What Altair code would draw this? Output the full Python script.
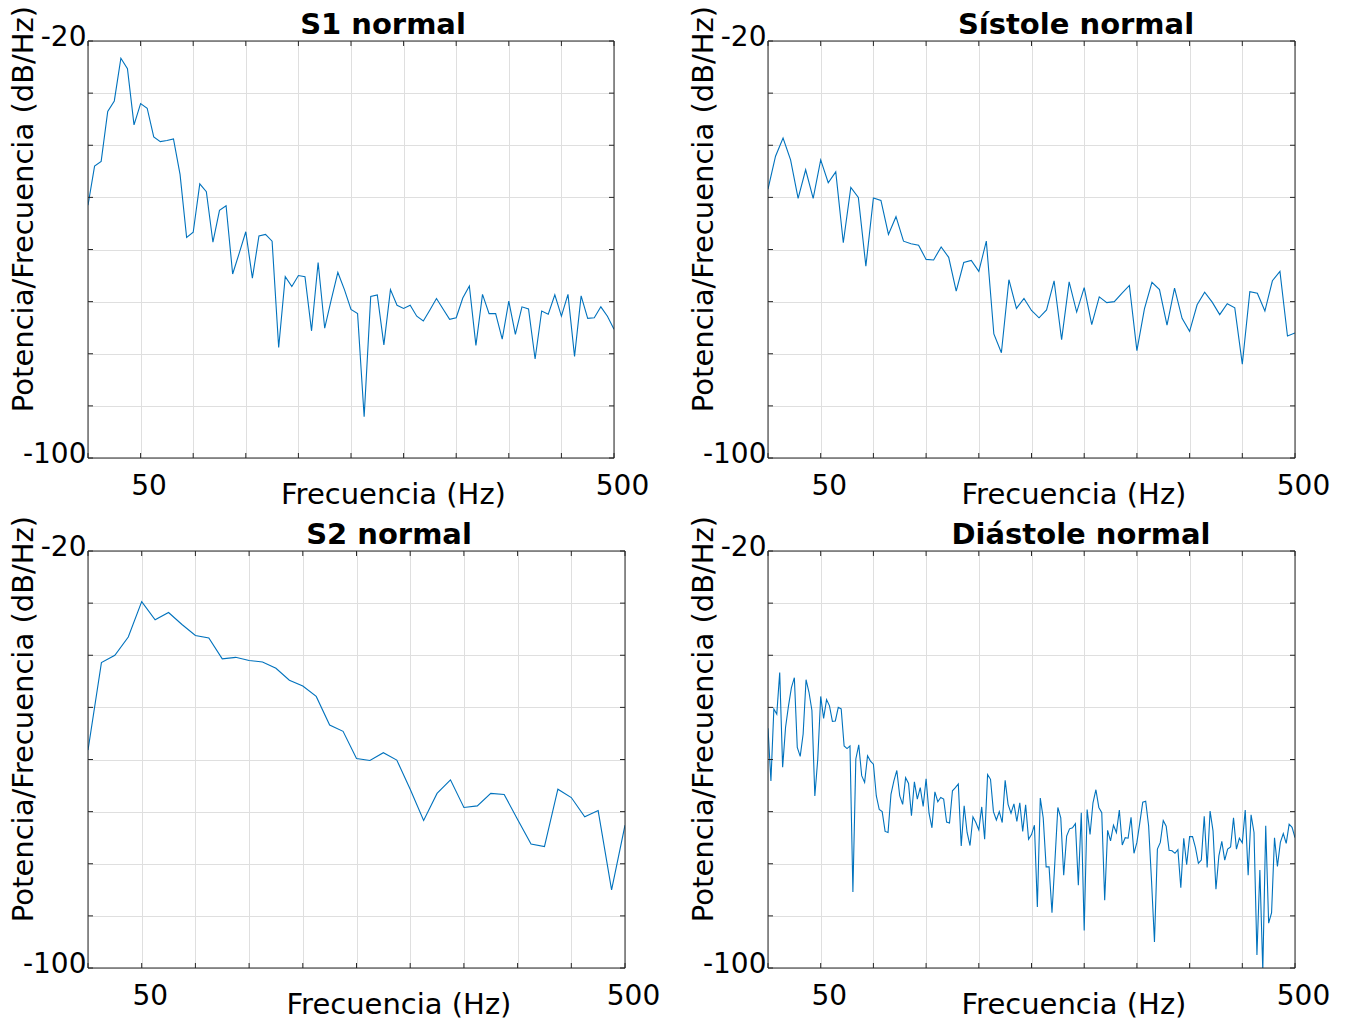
import altair as alt
import pandas as pd

# ---------------- data (dB/Hz) ----------------
s1_normal = [
    -51.5, -44.0, -43.1, -33.5, -31.5, -23.3, -25.3, -36.1, -32.0, -32.9,
    -38.4, -39.3, -39.1, -38.8, -45.6, -57.7, -56.7, -47.4, -48.9, -58.6,
    -52.5, -51.6, -64.7, -60.7, -56.6, -65.5, -57.4, -57.1, -58.4, -78.8,
    -65.2, -67.1, -65.0, -65.2, -75.6, -62.5, -75.1, -69.6, -64.4, -67.7,
    -71.5, -72.3, -92.1, -69.0, -68.7, -78.3, -67.7, -70.7, -71.3, -70.7,
    -72.8, -73.7, -71.6, -69.4, -71.4, -73.4, -73.1, -69.3, -67.0, -78.4,
    -68.6, -72.3, -72.3, -77.2, -69.9, -76.3, -71.0, -71.4, -81.0, -71.8,
    -72.4, -68.7, -72.8, -68.6, -80.5, -68.9, -73.2, -73.1, -71.0, -72.8,
    -75.3,
]

sistole_normal = [
    -48.4, -42.1, -38.6, -42.8, -50.2, -44.7, -50.2, -42.8, -47.2, -45.1,
    -58.7, -48.1, -50.0, -63.2, -50.1, -50.6, -57.1, -53.7, -58.4, -58.9,
    -59.2, -61.9, -62.0, -59.5, -61.5, -68.0, -62.5, -62.1, -64.2, -58.4,
    -76.2, -79.8, -65.8, -71.3, -69.4, -71.7, -73.1, -71.6, -66.0, -77.3,
    -66.2, -72.0, -67.3, -74.4, -69.1, -70.2, -70.0, -68.4, -66.9, -79.4,
    -71.4, -66.3, -67.7, -74.5, -67.4, -73.2, -75.7, -70.6, -68.2, -70.1,
    -72.5, -70.4, -71.2, -82.0, -68.1, -68.4, -71.8, -66.0, -64.2, -76.6,
    -76.0,
]

s2_normal = [
    -58.2, -41.4, -40.0, -36.5, -29.7, -33.2, -31.8, -34.1, -36.2, -36.7,
    -40.7, -40.4, -41.0, -41.3, -42.5, -44.8, -45.9, -47.9, -53.4, -54.6,
    -59.8, -60.2, -58.7, -60.1, -65.7, -71.7, -66.5, -63.9, -69.2, -68.9,
    -66.5, -66.7, -71.5, -76.2, -76.7, -65.7, -67.3, -71.0, -69.8, -85.0,
    -72.6,
]

diastole_normal = [
    -54.0, -64.1, -50.3, -51.3, -43.3, -61.5, -53.8, -49.7, -46.2, -44.3,
    -57.7, -59.4, -55.1, -44.7, -47.1, -50.6, -67.0, -59.9, -47.9, -52.1,
    -48.5, -49.7, -52.7, -52.6, -50.0, -50.3, -57.4, -57.9, -57.4, -85.4,
    -59.9, -57.2, -63.1, -64.4, -59.3, -60.3, -60.9, -67.0, -69.6, -70.0,
    -73.8, -74.0, -66.7, -64.1, -62.1, -67.0, -68.6, -63.5, -64.6, -70.8,
    -64.3, -67.6, -65.4, -69.0, -63.7, -70.3, -73.1, -66.2, -68.1, -67.3,
    -67.6, -72.0, -72.2, -66.0, -65.4, -64.7, -76.6, -68.9, -74.0, -76.5,
    -71.0, -72.1, -73.5, -69.1, -75.3, -62.9, -63.8, -70.0, -71.6, -70.0,
    -72.1, -64.0, -68.6, -70.3, -68.5, -71.9, -68.3, -73.8, -68.7, -75.3,
    -74.4, -72.6, -88.3, -67.4, -71.2, -80.6, -80.6, -89.4, -79.5, -69.2,
    -71.2, -82.2, -74.7, -73.3, -73.1, -72.3, -84.1, -70.2, -92.8, -69.6,
    -74.4, -68.3, -65.8, -69.2, -70.2, -87.0, -73.6, -75.6, -72.6, -74.0,
    -69.7, -76.4, -75.0, -75.1, -71.1, -78.0, -75.9, -72.1, -68.2, -68.0,
    -72.7, -83.3, -95.0, -77.2, -75.9, -71.7, -72.8, -77.4, -77.5, -78.0,
    -77.3, -84.6, -75.1, -80.2, -74.8, -74.8, -76.9, -79.9, -79.3, -70.9,
    -80.7, -69.9, -73.7, -84.9, -78.5, -75.7, -79.3, -77.2, -76.8, -71.2,
    -77.2, -75.1, -76.0, -69.7, -82.2, -70.6, -74.0, -97.5, -81.2, -100.5,
    -72.7, -91.4, -89.4, -75.0, -80.5, -75.9, -74.2, -76.1, -72.4, -73.0,
    -75.0,
]

titles = ["S1 normal", "Sístole normal", "S2 normal", "Diástole normal"]
x_grid = [0, 50, 100, 150, 200, 250, 300, 350, 400, 450, 500]
y_grid = [-100, -90, -80, -70, -60, -50, -40, -30, -20]
x_labels = [50, 500]
y_labels = [-20, -100]
F_MAX = 500

# ---------------- style ----------------
FONT = "DejaVu Sans"
LINE = "#0072BD"
AXC = "#262626"
GRIDC = "#dfdfdf"
H = 417
TICK = 5
LABEL_FS = 28
TITLE_FS = 29


def panel(vals, title, width, title_x):
    n = len(vals)
    freq = [F_MAX * i / (n - 1) for i in range(n)]
    df = pd.DataFrame({"f": freq, "p": vals})
    xs = alt.Scale(domain=[0, F_MAX], nice=False, zero=False)
    ys = alt.Scale(domain=[-100, -20], nice=False, zero=False)
    xexpr = " || ".join(f"datum.value == {v}" for v in x_labels)
    yexpr = " || ".join(f"datum.value == {v}" for v in y_labels)
    xaxis = alt.Axis(
        values=x_grid, labelExpr=f"({xexpr}) ? toString(datum.value) : ''",
        grid=True, gridColor=GRIDC, gridWidth=1, ticks=False, tickSize=0,
        domain=False, labelFlush=False, labelOffset=8, labelPadding=14,
        labelOverlap=False, labelFont=FONT, labelFontSize=LABEL_FS, labelColor="black",
        title="Frecuencia (Hz)", titleX=width / 2 + 42, titleY=45,
        titleBaseline="alphabetic", titleAlign="center",
        titleFont=FONT, titleFontSize=TITLE_FS, titleFontWeight="normal", titleColor="black",
    )
    yaxis = alt.Axis(
        values=y_grid, labelExpr=f"({yexpr}) ? toString(datum.value) : ''",
        grid=True, gridColor=GRIDC, gridWidth=1, ticks=False, tickSize=0,
        domain=False, labelPadding=2, labelOffset=-4, labelOverlap=False,
        labelFont=FONT, labelFontSize=LABEL_FS, labelColor="black",
        title="Potencia/Frecuencia (dB/Hz)", titleX=-56, titleY=H / 2 - 41,
        titleBaseline="alphabetic", titleAlign="center",
        titleFont=FONT, titleFontSize=TITLE_FS, titleFontWeight="normal", titleColor="black",
    )
    line = alt.Chart(df).mark_line(color=LINE, strokeWidth=1.1, clip=True).encode(
        x=alt.X("f:Q", scale=xs, axis=xaxis),
        y=alt.Y("p:Q", scale=ys, axis=yaxis),
    )
    xt = pd.DataFrame({"f": x_grid})
    yt = pd.DataFrame({"p": y_grid})
    bottom = alt.Chart(xt).mark_rule(color=AXC, strokeWidth=1).encode(
        x=alt.X("f:Q", scale=xs, axis=xaxis), y=alt.value(H), y2=alt.value(H - TICK)
    )
    top = alt.Chart(xt).mark_rule(color=AXC, strokeWidth=1).encode(
        x=alt.X("f:Q", scale=xs, axis=xaxis), y=alt.value(0), y2=alt.value(TICK)
    )
    left = alt.Chart(yt).mark_rule(color=AXC, strokeWidth=1).encode(
        y=alt.Y("p:Q", scale=ys, axis=yaxis), x=alt.value(0), x2=alt.value(TICK)
    )
    right = alt.Chart(yt).mark_rule(color=AXC, strokeWidth=1).encode(
        y=alt.Y("p:Q", scale=ys, axis=yaxis), x=alt.value(width), x2=alt.value(width - TICK)
    )
    frame = alt.Chart(pd.DataFrame({"k": [0]})).mark_rect(
        filled=False, stroke=AXC, strokeWidth=1
    ).encode(x=alt.value(0), x2=alt.value(width), y=alt.value(0), y2=alt.value(H))
    ttl = alt.Chart(pd.DataFrame({"t": [title]})).mark_text(
        font=FONT, fontSize=TITLE_FS, fontWeight="bold", color="black",
        align="center", baseline="alphabetic",
    ).encode(text="t:N", x=alt.value(title_x), y=alt.value(-7))
    return alt.layer(line, bottom, top, left, right, frame, ttl).properties(
        width=width, height=H
    )


p1 = panel(s1_normal, titles[0], 526, 295)
p2 = panel(sistole_normal, titles[1], 527, 308)
p3 = panel(s2_normal, titles[2], 537, 301)
p4 = panel(diastole_normal, titles[3], 527, 313)

chart = alt.concat(
    p1, p2, p3, p4, columns=2, spacing={"row": 93, "column": 143}, bounds="flush"
).properties(
    padding={"left": 8, "top": 4, "right": 5, "bottom": 5},
    background="white",
).configure_view(stroke="transparent")

chart.save("out.html", embed_options={"renderer": "svg", "actions": False})
